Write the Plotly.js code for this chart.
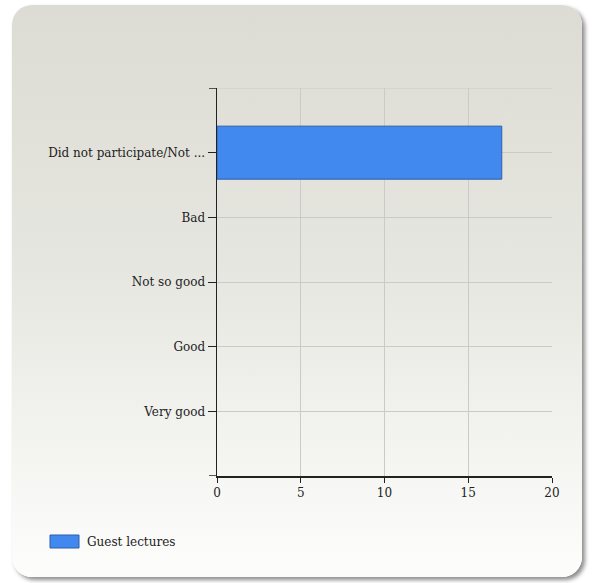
<!DOCTYPE html>
<html>
<head>
<meta charset="utf-8">
<script src="https://cdn.plot.ly/plotly-3.0.1.min.js"></script>
<style>
  html, body { margin: 0; padding: 0; background: #ffffff; width: 594px; height: 583px; overflow: hidden; }
  #panel {
    position: absolute; left: 12px; top: 5px; width: 570px; height: 572px;
    border-radius: 20px;
    background: linear-gradient(to bottom, #dcdcd4 0%, #e6e6e0 45%, #fdfdfc 100%);
    box-shadow: 3px 3px 4px rgba(0,0,0,0.45);
  }
  #chart { position: absolute; left: 0; top: 0; width: 594px; height: 583px; }
</style>
</head>
<body>
<div id="panel"></div>
<div id="chart"></div>
<script>
const categories = ["Did not participate/Not ...", "Bad", "Not so good", "Good", "Very good"];
const values = [17, 0, 0, 0, 0];
const seriesName = "Guest lectures";
const xTicks = [0, 5, 10, 15, 20];

const font = { family: "DejaVu Serif, Liberation Serif, serif", size: 12, color: "#222222" };
const barColor = "#4189ee";
const barLine = "#2e5ea8";
const gridColor = "#cbcbc6";

const trace = {
  type: "bar",
  orientation: "h",
  name: seriesName,
  x: values,
  y: categories,
  width: 0.82,
  marker: { color: barColor, line: { color: barLine, width: values.map(v => v > 0 ? 1 : 0) } },
  showlegend: false,
  hoverinfo: "x+y"
};

const layout = {
  width: 594, height: 583,
  margin: { l: 217, r: 42, t: 88, b: 107 },
  paper_bgcolor: "rgba(0,0,0,0)",
  plot_bgcolor: "rgba(0,0,0,0)",
  font: font,
  showlegend: false,
  xaxis: {
    range: [0, 20], tickvals: xTicks, ticks: "outside", ticklen: 5, tickcolor: "#222",
    showline: true, linecolor: "#222", linewidth: 1.5,
    showgrid: true, gridcolor: gridColor, zeroline: false, fixedrange: true,
    tickfont: font
  },
  yaxis: {
    type: "category", categoryorder: "array", categoryarray: categories,
    range: [5, -1], ticks: "outside", ticklen: 8, tickcolor: "#222",
    showline: true, linecolor: "#222", linewidth: 1.5,
    showgrid: true, gridcolor: gridColor, zeroline: false, fixedrange: true,
    tickfont: font
  },
  shapes: [
    { type: "line", xref: "paper", yref: "y", x0: 0, x1: 1, y0: -1, y1: -1, layer: "below",
      line: { color: gridColor, width: 1 } },
    { type: "line", xref: "paper", yref: "y", x0: -8/335, x1: 0, y0: -1, y1: -1,
      line: { color: "#222", width: 1.5 } },
    { type: "line", xref: "paper", yref: "y", x0: -8/335, x1: 0, y0: 5, y1: 5,
      line: { color: "#222", width: 1.5 } },
    { type: "rect", xref: "paper", yref: "paper", x0: -167/335, x1: -138/335, y0: -72/388, y1: -59/388,
      fillcolor: barColor, line: { color: barLine, width: 1 } }
  ],
  annotations: [
    { xref: "paper", yref: "paper", x: -132/335, y: -65.5/388, xanchor: "left", yanchor: "middle",
      text: seriesName, showarrow: false, font: font }
  ]
};

Plotly.newPlot("chart", [trace], layout, { displayModeBar: false, staticPlot: true });
</script>
</body>
</html>
